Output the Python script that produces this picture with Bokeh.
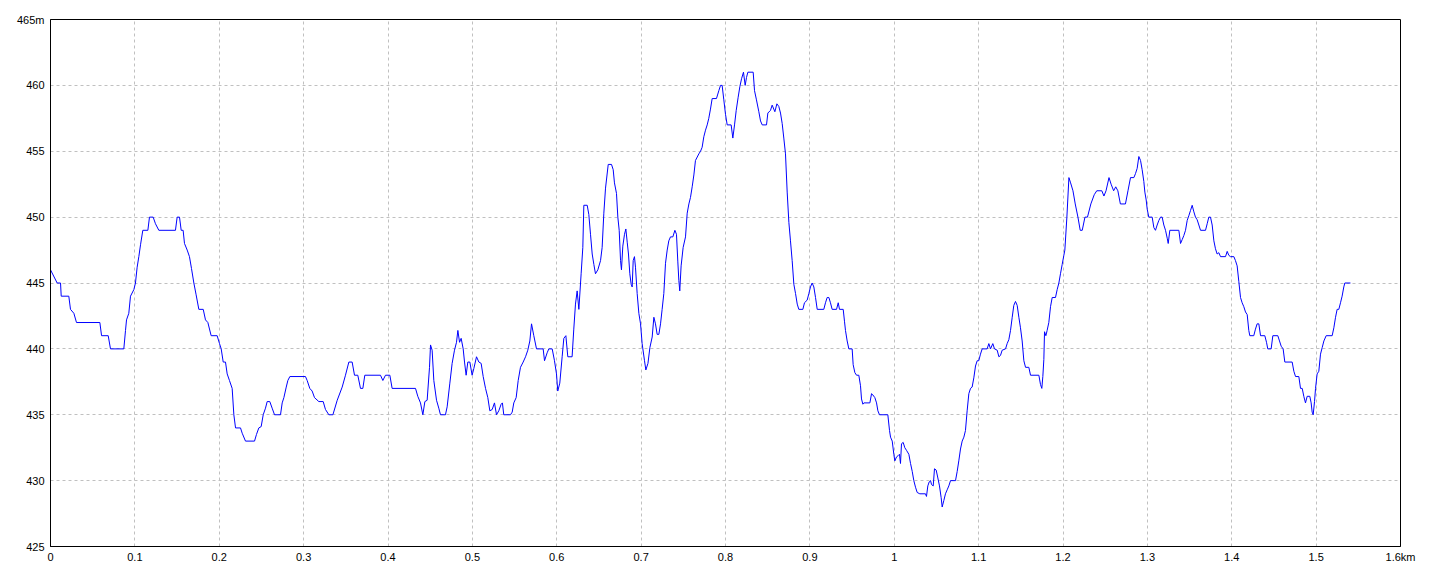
from bokeh.plotting import figure
from bokeh.models import Range1d, FixedTicker
from bokeh.embed import file_html
from bokeh.resources import INLINE

dist_km = [
0.0000,0.0079,0.0119,0.0127,0.0217,0.0237,0.0277,0.0308,0.0585,0.0605,0.0684,0.0711,0.0869,0.0889,0.0901,0.0928,0.0948,0.0988,0.1007,0.1027,
0.1047,0.1067,0.1094,0.1154,0.1173,0.1217,0.1244,0.1284,0.1481,0.1501,0.1529,0.1549,0.1572,0.1588,0.1620,0.1647,0.1671,0.1699,0.1726,0.1758,
0.1810,0.1837,0.1865,0.1904,0.1975,0.2003,0.2023,0.2047,0.2074,0.2094,0.2121,0.2153,0.2173,0.2193,0.2252,0.2272,0.2311,0.2418,0.2441,0.2469,
0.2497,0.2521,0.2548,0.2568,0.2599,0.2627,0.2655,0.2726,0.2746,0.2766,0.2794,0.2813,0.2837,0.3022,0.3042,0.3073,0.3101,0.3129,0.3180,0.3232,
0.3259,0.3299,0.3347,0.3398,0.3457,0.3496,0.3536,0.3575,0.3603,0.3642,0.3674,0.3702,0.3725,0.3911,0.3939,0.3970,0.4022,0.4049,0.4326,0.4353,
0.4385,0.4413,0.4437,0.4464,0.4492,0.4504,0.4523,0.4543,0.4575,0.4602,0.4622,0.4681,0.4701,0.4733,0.4760,0.4788,0.4812,0.4828,0.4848,0.4867,
0.4891,0.4907,0.4926,0.4946,0.4970,0.4997,0.5017,0.5049,0.5077,0.5104,0.5128,0.5156,0.5183,0.5207,0.5235,0.5262,0.5286,0.5313,0.5341,0.5356,
0.5372,0.5452,0.5472,0.5491,0.5519,0.5543,0.5570,0.5602,0.5630,0.5657,0.5681,0.5701,0.5728,0.5760,0.5839,0.5855,0.5886,0.5906,0.5946,0.5973,
0.5997,0.6012,0.6036,0.6064,0.6084,0.6108,0.6131,0.6182,0.6202,0.6222,0.6242,0.6262,0.6289,0.6309,0.6321,0.6361,0.6380,0.6400,0.6420,0.6440,
0.6459,0.6487,0.6519,0.6538,0.6558,0.6578,0.6610,0.6649,0.6669,0.6684,0.6708,0.6724,0.6740,0.6756,0.6767,0.6783,0.6803,0.6819,0.6835,0.6850,
0.6866,0.6882,0.6894,0.6906,0.6921,0.6933,0.6953,0.6973,0.6993,0.7012,0.7040,0.7056,0.7081,0.7104,0.7131,0.7151,0.7170,0.7190,0.7210,0.7230,
0.7249,0.7269,0.7289,0.7309,0.7328,0.7348,0.7376,0.7400,0.7419,0.7435,0.7447,0.7458,0.7474,0.7498,0.7526,0.7546,0.7566,0.7585,0.7605,0.7625,
0.7644,0.7684,0.7704,0.7723,0.7743,0.7763,0.7783,0.7802,0.7822,0.7842,0.7893,0.7921,0.7941,0.7960,0.7980,0.8000,0.8020,0.8067,0.8087,0.8107,
0.8127,0.8150,0.8170,0.8190,0.8213,0.8233,0.8249,0.8265,0.8328,0.8344,0.8367,0.8395,0.8415,0.8435,0.8486,0.8502,0.8533,0.8553,0.8585,0.8609,
0.8632,0.8652,0.8672,0.8691,0.8711,0.8731,0.8751,0.8770,0.8790,0.8810,0.8830,0.8850,0.8869,0.8917,0.8936,0.8968,0.8988,0.9007,0.9027,0.9047,
0.9067,0.9087,0.9165,0.9185,0.9205,0.9225,0.9244,0.9264,0.9316,0.9336,0.9351,0.9395,0.9410,0.9422,0.9442,0.9462,0.9501,0.9513,0.9533,0.9553,
0.9580,0.9600,0.9612,0.9628,0.9640,0.9711,0.9731,0.9747,0.9770,0.9790,0.9806,0.9825,0.9924,0.9944,0.9956,0.9976,0.9995,1.0007,1.0027,1.0047,
1.0062,1.0074,1.0086,1.0106,1.0125,1.0145,1.0173,1.0193,1.0213,1.0232,1.0252,1.0272,1.0303,1.0370,1.0382,1.0398,1.0414,1.0430,1.0442,1.0462,
1.0477,1.0497,1.0517,1.0536,1.0556,1.0568,1.0588,1.0607,1.0627,1.0647,1.0667,1.0726,1.0746,1.0765,1.0785,1.0805,1.0825,1.0844,1.0864,1.0884,
1.0904,1.0923,1.0943,1.0963,1.0983,1.1002,1.1022,1.1042,1.1101,1.1121,1.1141,1.1168,1.1188,1.1220,1.1240,1.1259,1.1279,1.1319,1.1338,1.1358,
1.1378,1.1398,1.1417,1.1437,1.1457,1.1477,1.1496,1.1516,1.1536,1.1556,1.1595,1.1615,1.1714,1.1733,1.1749,1.1761,1.1773,1.1781,1.1797,1.1812,
1.1832,1.1852,1.1872,1.1911,1.1931,1.1951,1.1970,1.1990,1.2010,1.2022,1.2046,1.2070,1.2090,1.2118,1.2145,1.2177,1.2204,1.2228,1.2260,1.2290,
1.2330,1.2370,1.2400,1.2460,1.2485,1.2510,1.2545,1.2570,1.2600,1.2625,1.2650,1.2680,1.2740,1.2770,1.2800,1.2840,1.2859,1.2879,1.2899,1.2919,
1.2938,1.2958,1.2970,1.2986,1.2998,1.3017,1.3057,1.3077,1.3096,1.3116,1.3136,1.3156,1.3175,1.3195,1.3215,1.3235,1.3247,1.3266,1.3373,1.3393,
1.3413,1.3432,1.3452,1.3472,1.3491,1.3511,1.3531,1.3551,1.3570,1.3590,1.3610,1.3630,1.3689,1.3709,1.3728,1.3748,1.3768,1.3788,1.3807,1.3827,
1.3847,1.3867,1.3926,1.3946,1.3965,1.3985,1.4025,1.4044,1.4064,1.4084,1.4104,1.4123,1.4143,1.4163,1.4183,1.4202,1.4214,1.4261,1.4281,1.4301,
1.4321,1.4341,1.4392,1.4412,1.4427,1.4467,1.4487,1.4546,1.4566,1.4586,1.4609,1.4629,1.4716,1.4736,1.4756,1.4795,1.4815,1.4835,1.4854,1.4874,
1.4894,1.4925,1.4941,1.4953,1.4965,1.4981,1.4993,1.5012,1.5032,1.5052,1.5072,1.5092,1.5119,1.5190,1.5210,1.5230,1.5249,1.5269,1.5289,1.5308,
1.5328,1.5340,1.5407,
]

elev_m = [
446,445,445,444,444,443,442.7,442,442,441,441,440,440,441.4,442.2,442.7,444,444.5,445,446.2,
447,447.9,449,449,450,450,449.5,449,449,450,450,449,449,448,447.5,447,446.1,445,444.1,443,
443,442.2,442,441,441,440.4,440,439,439,438.1,437.6,437,435,434,434,433.6,433,433,433.5,434,
434.1,435,435.5,436,436,435.5,435,435,435.9,436.3,437.1,437.6,437.9,437.9,437.6,437,436.8,436.3,436,436,
435.4,435,435,436.1,437.1,438,439,439,438,438,437,437,438,438,437.6,438,438,437,437,436.4,
435.9,435,436,436.1,438.6,440.3,439.9,437.6,436.1,435.5,435,435,435.6,437.4,438.9,439.9,440.5,441.4,440.5,440.8,
440,439,438,439,439,438,438.5,439.4,439,438.9,437.9,437,436.3,435.3,435.4,435.9,435,435.3,435.8,435.9,
435,435,435.2,435.9,436.3,437.6,438.6,439,439.4,439.9,440.6,441.9,441,440,440,439.1,439.7,440,440,439.1,
438.1,436.8,437.4,439.4,440.8,441,439.4,439.4,441.5,443.4,444.4,443,445.7,447.7,450.9,450.9,450.2,448.7,447.2,446.4,
445.7,446,446.7,447.7,450.3,452.2,454,454,453.6,452.6,451.8,450,449,446.7,446,447.8,448.7,449.1,448.1,447.2,
445.7,444.9,444.7,446.7,447,446.2,444.2,442.7,441.9,440.4,439.1,438.4,438.9,440.1,440.9,442.4,441.9,441.1,441.1,441.9,
443,444.2,446.5,447.5,448.2,448.5,448.5,449,448.7,446.6,445.2,444.4,446.3,447.7,448.5,450.3,451,451.5,452.3,453.2,
454.3,454.8,455,455.3,456.1,456.6,457,457.5,458.2,459,459,459.6,460,460,458.9,457.8,457,457,456,457,
458.1,459.1,459.9,460.5,461,460,460.6,461,461,459.6,458.9,458,457.3,457,457,457.9,458.1,458.5,458,458.6,
458.4,457.9,457.1,456,454.8,451.9,449.6,448.2,446.7,444.9,444.2,443.4,443,443,443.5,443.7,444.2,444.7,445,444.7,
443.9,443,443,443.5,443.9,443.9,443.5,443,443,443.5,443,443,442.1,441.4,440.6,440,440,438.8,438.2,438,
438,437.2,436.2,435.8,435.9,435.9,436.6,436.5,436.3,435.9,435.3,435,435,433.8,433.3,433,432,431.5,431.8,431.9,
432,431.3,432.8,432.9,432.5,432.3,432,431.3,430.7,430,429.5,429.1,429,429,428.8,429.6,429.9,430,429.7,429.6,
430.9,430.8,430.2,429.6,428.7,428,428.5,429,429.3,429.6,430,430,430.7,431.5,432.4,433,433.3,433.8,435.3,436.6,
437,437.1,437.8,438.7,439.1,439.1,439.6,440,440,440.4,440,440.4,440,439.9,439.4,439.5,439.9,440,440.4,440.7,
441.4,442.4,443.3,443.6,443.3,442.4,441.6,440.6,439.1,438.6,438.6,438,438,437.3,437,437.9,439.2,441.3,441,441.4,
442,443.2,443.9,443.9,444.5,445,445.7,446.4,447.1,447.5,450,453,452.6,452,451,450,449,449,450,450,
451,451.7,452,452,451.6,452,453,452.5,452,452.3,452,451,451,452,453,453,453.3,453.7,454.6,454.3,
453.6,452.7,451.9,451.3,450.6,450,450,449.2,449,449.4,449.75,450,450,449.4,449,448.4,448,449,449,448,
448.3,448.6,449,449.75,450.1,450.5,450.9,450.4,450,449.8,449.4,449,449,449.5,450,450,449.4,448.2,447.6,447.2,
447.3,447,447,447.4,447.1,447,447,446.7,446.3,445.1,443.9,443.5,443.2,442.8,442.6,441.4,441,441,441.5,441.9,
441.9,441,441,440.5,440,440,441,441,440.6,440.2,440,439,439,438.3,437.9,437.9,437,437,436.4,435.9,
436.4,436.4,435.9,435.2,435,436,437,438.1,438.3,439.6,440.1,440.6,441,441,441.6,442.4,443,443,443.5,444,
444.7,445,445,
]

x_ticks = [0, 0.1, 0.2, 0.3, 0.4, 0.5, 0.6, 0.7, 0.8, 0.9, 1, 1.1, 1.2, 1.3, 1.4, 1.5, 1.6]
x_tick_labels = ["0", "0.1", "0.2", "0.3", "0.4", "0.5", "0.6", "0.7", "0.8", "0.9",
                 "1", "1.1", "1.2", "1.3", "1.4", "1.5", "1.6km"]
y_ticks = [425, 430, 435, 440, 445, 450, 455, 460, 465]
y_tick_labels = ["425", "430", "435", "440", "445", "450", "455", "460", "465m"]

p = figure(width=1432, height=568, output_backend="svg", toolbar_location=None,
           x_range=Range1d(0, 1.6), y_range=Range1d(425, 465),
           min_border_left=50, min_border_right=32, min_border_top=19, min_border_bottom=22)
p.background_fill_color = "white"
p.border_fill_color = "white"
p.outline_line_color = "black"
p.outline_line_width = 1
p.outline_line_alpha = 1

p.xaxis.ticker = FixedTicker(ticks=x_ticks)
p.yaxis.ticker = FixedTicker(ticks=y_ticks)
p.xaxis.major_label_overrides = dict(zip(x_ticks, x_tick_labels))
p.yaxis.major_label_overrides = dict(zip(y_ticks, y_tick_labels))

for ax in (p.xaxis, p.yaxis):
    ax.axis_line_color = "black"
    ax.major_tick_line_color = None
    ax.minor_tick_line_color = None
    ax.major_tick_out = 0
    ax.major_tick_in = 0
    ax.major_label_text_font = "Liberation Sans"
    ax.major_label_text_font_size = "11px"
    ax.major_label_text_color = "black"
p.xaxis.major_label_standoff = 4
p.yaxis.major_label_standoff = 6

for g in (p.xgrid, p.ygrid):
    g.grid_line_color = "#c0c0c0"
    g.grid_line_dash = "3 3"
    g.grid_line_width = 1

p.line(dist_km, elev_m, line_color="#0000ff", line_width=1)

open("out.html", "w").write(file_html(p, INLINE))
